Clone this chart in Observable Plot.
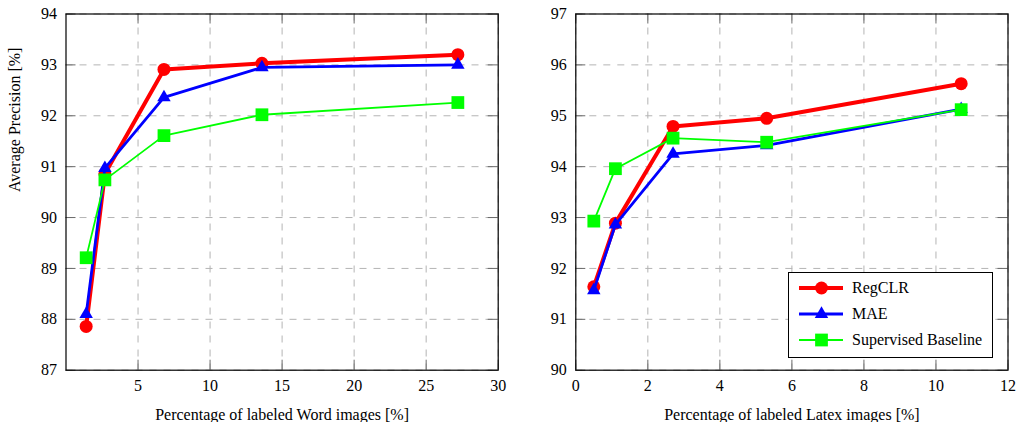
<!DOCTYPE html>
<html><head><meta charset="utf-8">
<script src="https://cdn.jsdelivr.net/npm/d3@7"></script>
<script src="https://cdn.jsdelivr.net/npm/@observablehq/plot@0.6"></script>
<style>
body{margin:0;background:#fff;}
#wrap{position:relative;width:1016px;height:422px;display:flex;overflow:hidden;background:#fff}
#wrap svg{display:block;flex:none}
#legend{position:absolute;left:788px;top:272px;width:205px;height:86px;border:1px solid #000;background:#fff;box-sizing:border-box}
</style></head><body><div id="wrap"></div>
<script>
const seriesNames = ["RegCLR", "MAE", "Supervised Baseline"];
const seriesColors = ["#ff0000", "#0000ff", "#00ff00"];
const seriesSymbols = ["circle", "triangle", "square"];

const wordX = [1.4, 2.7, 6.8, 13.6, 27.2];
const wordRegCLR = [87.86, 90.86, 92.91, 93.03, 93.2];
const wordMAE = [88.1, 90.97, 92.36, 92.95, 93.0];
const wordSup = [89.21, 90.74, 91.61, 92.02, 92.26];

const latexX = [0.5, 1.1, 2.7, 5.3, 10.7];
const latexRegCLR = [91.64, 92.89, 94.79, 94.95, 95.63];
const latexMAE = [91.57, 92.86, 94.25, 94.42, 95.13];
const latexSup = [92.93, 93.96, 94.56, 94.48, 95.12];

const wordXTicks = [5, 10, 15, 20, 25, 30];
const wordYTicks = [87, 88, 89, 90, 91, 92, 93, 94];
const latexXTicks = [0, 2, 4, 6, 8, 10, 12];
const latexYTicks = [90, 91, 92, 93, 94, 95, 96, 97];

const lineWidths = [4, 2.8, 1.8];
const dotR = [6.5, 5, 7.2];
const FONT = "Liberation Serif";

function panel({xs, ys, xDomain, yDomain, xTicks, yTicks, xLabel, yLabel, marginLeft, marginRight}) {
  const W = 508, H = 422, mt = 13.5, mb = 52.3;
  const fw = W - marginLeft - marginRight, fh = H - mt - mb;
  const grid = {stroke: "#b4b4b4", strokeOpacity: 1, strokeWidth: 1, strokeDasharray: "7,7"};
  const tk = {stroke: "#6a6a6a", strokeWidth: 1};
  const txt = {fontFamily: FONT, fontSize: 16, fontVariant: "normal", fill: "#000"};
  const marks = [
    Plot.gridX(xTicks, grid),
    Plot.gridY(yTicks, grid),
    Plot.tickX(xTicks, {x: d => d, insetTop: fh - 10, ...tk}),
    Plot.tickX(xTicks, {x: d => d, insetBottom: fh - 10, ...tk}),
    Plot.tickY(yTicks, {y: d => d, insetLeft: fw - 10, ...tk}),
    Plot.tickY(yTicks, {y: d => d, insetRight: fw - 10, ...tk}),
    Plot.axisX({ticks: xTicks, tickSize: 0, tickPadding: 9.5, tickFormat: d => String(d), label: null, ...txt}),
    Plot.axisY({ticks: yTicks, tickSize: 0, tickPadding: 9, tickFormat: d => String(d), label: null, ...txt})
  ];
  ys.forEach((arr, s) => {
    const rows = arr.map((v, i) => ({x: xs[i], y: v}));
    marks.push(Plot.line(rows, {x: "x", y: "y", stroke: seriesColors[s], strokeWidth: lineWidths[s]}));
    marks.push(Plot.dot(rows, {x: "x", y: "y", symbol: seriesSymbols[s], r: dotR[s], fill: seriesColors[s], stroke: "none"}));
  });
  marks.push(Plot.frame({stroke: "#000", strokeWidth: 1.2}));
  marks.push(Plot.text([xLabel], {frameAnchor: "bottom", lineAnchor: "bottom", dy: 50, ...txt}));
  if (yLabel) marks.push(Plot.text([yLabel], {frameAnchor: "left", rotate: -90, dx: -51, ...txt}));
  return Plot.plot({
    width: W, height: H,
    marginLeft, marginRight, marginTop: mt, marginBottom: mb,
    style: {fontFamily: FONT, fontSize: "16px", background: "#fff", color: "#000", overflow: "visible"},
    x: {domain: xDomain},
    y: {domain: yDomain},
    marks
  });
}

const wrap = document.getElementById("wrap");
wrap.appendChild(panel({
  xs: wordX, ys: [wordRegCLR, wordMAE, wordSup],
  xDomain: [0, 30], yDomain: [87, 94], xTicks: wordXTicks, yTicks: wordYTicks,
  xLabel: "Percentage of labeled Word images [%]", yLabel: "Average Precision [%]",
  marginLeft: 65.5, marginRight: 10.3
}));
wrap.appendChild(panel({
  xs: latexX, ys: [latexRegCLR, latexMAE, latexSup],
  xDomain: [0, 12], yDomain: [90, 97], xTicks: latexXTicks, yTicks: latexYTicks,
  xLabel: "Percentage of labeled Latex images [%]", yLabel: null,
  marginLeft: 67.3, marginRight: 8.5
}));

// legend
const leg = document.createElement("div");
leg.id = "legend";
wrap.appendChild(leg);
const lsvg = d3.select(leg).append("svg").attr("width", 203).attr("height", 84)
  .style("font-family", FONT).style("font-size", "16px");
seriesNames.forEach((name, s) => {
  const y = 16 + s * 26 - 1;
  const g = lsvg.append("g").attr("transform", `translate(0,${y})`);
  g.append("line").attr("x1", 10).attr("x2", 54).attr("y1", 0).attr("y2", 0)
    .attr("stroke", seriesColors[s]).attr("stroke-width", lineWidths[s]);
  const sym = {circle: d3.symbolCircle, triangle: d3.symbolTriangle, square: d3.symbolSquare}[seriesSymbols[s]];
  g.append("path").attr("transform", "translate(32.5,0)")
    .attr("d", d3.symbol(sym, Math.PI * dotR[s] * dotR[s])())
    .attr("fill", seriesColors[s]);
  g.append("text").attr("x", 63).attr("y", 0).attr("dy", "0.32em").attr("fill", "#000").text(name);
});
</script></body></html>
